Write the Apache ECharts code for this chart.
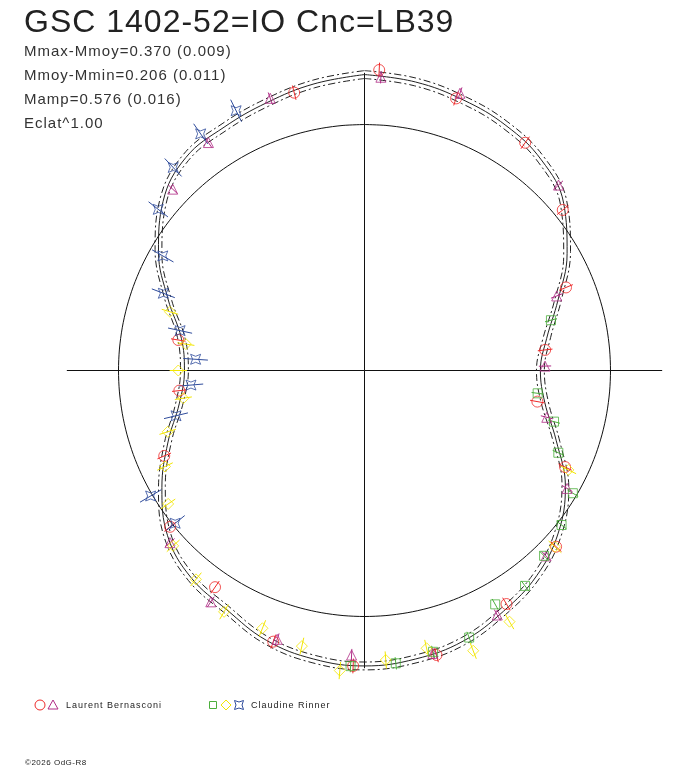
<!DOCTYPE html>
<html lang="fr">
<head>
<meta charset="utf-8">
<title>GSC 1402-52=IO Cnc=LB39</title>
<script src="https://cdn.jsdelivr.net/npm/echarts@6.0.0/dist/echarts.min.js"></script>
<style>html,body{margin:0;padding:0;background:#fff;}</style>
</head>
<body>
<div id="chart" style="width:688px;height:768px;"></div>
<script type="text/javascript">
var titleText = 'GSC 1402-52=IO Cnc=LB39';
var infoLines = ['Mmax-Mmoy=0.370 (0.009)', 'Mmoy-Mmin=0.206 (0.011)', 'Mamp=0.576 (0.016)', 'Eclat^1.00'];
var observers = ['Laurent Bernasconi', 'Claudine Rinner'];

// phase en degres (0 en haut, sens horaire), rayon normalise (1 = cercle moyen)
var fitPhase = [0, 10, 20, 30, 40, 50, 60, 70, 80, 90, 100, 110, 120, 130, 140, 150, 160, 170,
                180, 190, 200, 210, 220, 230, 240, 250, 260, 270, 280, 290, 300, 310, 320, 330, 340, 350, 360];
var fitR = [1.203, 1.191, 1.171, 1.150, 1.118, 1.057, 0.951, 0.837, 0.752, 0.715, 0.744, 0.829,
            0.943, 1.028, 1.089, 1.130, 1.171, 1.191, 1.201, 1.191, 1.167, 1.122, 1.098, 1.045,
            0.951, 0.850, 0.764, 0.732, 0.756, 0.850, 0.967, 1.069, 1.130, 1.142, 1.159, 1.183, 1.203];
var fitErr = 0.016;
var meanR = 1;
var axisR = 1.21;

// [phase, rayon]
var lbCircle = [[2.8,1.223],[18.6,1.167],[35.2,1.133],[51.0,1.037],[67.6,0.886],[83.5,0.739],[100.2,0.714],
  [115.7,0.905],[132.6,1.058],[148.7,1.111],[165.8,1.193],[182.2,1.202],[198.6,1.163],[214.6,1.070],
  [231.2,1.014],[246.9,0.885],[263.8,0.757],[279.3,0.767],[345.8,1.165]];
var lbTriangle = [[3.2,1.194],[19.0,1.192],[46.3,1.091],[68.8,0.838],[88.6,0.734],[104.4,0.765],[120.2,0.953],
  [135.6,1.055],[151.5,1.131],[166.4,1.183],[182.6,1.158],[198.0,1.149],[213.6,1.129],[228.5,1.056],
  [313.4,1.073],[325.6,1.123],[340.9,1.171]];
var crSquare = [[74.9,0.785],[97.5,0.710],[105.1,0.798],[113.0,0.856],[120.5,0.983],[128.1,1.018],[135.9,1.049],
  [143.3,1.092],[150.8,1.089],[158.6,1.166],[166.3,1.177],[173.9,1.197],[182.7,1.203]];
var crDiamond = [[116.0,0.922],[132.8,1.055],[150.0,1.179],[158.8,1.222],[167.4,1.157],[175.8,1.180],[184.7,1.224],
  [192.8,1.149],[201.6,1.127],[210.2,1.135],[218.9,1.091],[227.5,1.055],[235.8,0.965],[244.3,0.900],
  [252.7,0.838],[261.3,0.745],[270.0,0.757],[278.4,0.734],[286.8,0.826]];
var crStar = [[231.1,0.989],[239.6,1.008],[256.5,0.788],[265.2,0.708],[273.8,0.688],[282.2,0.767],[291.0,0.876],
  [299.6,0.943],[308.0,1.064],[316.7,1.134],[325.3,1.170],[333.7,1.178]];

// le graphique d'origine espace les lettres d'environ 1px
var origFillText = CanvasRenderingContext2D.prototype.fillText;
CanvasRenderingContext2D.prototype.fillText = function () {
  this.letterSpacing = /\b8px/.test(this.font) ? '0.5px' : '1px';
  return origFillText.apply(this, arguments);
};

var starPath = 'path://M0,0 L5,2 L10,0 L8,5 L10,10 L5,8 L0,10 L2,5 Z';

function toPolar(list) {
  return list.map(function (p) { return [p[1], p[0]]; });
}

function points(list, symbol, size, color) {
  return {
    type: 'scatter', coordinateSystem: 'polar', data: toPolar(list),
    symbol: symbol, symbolSize: size, clip: false, silent: true, z: 4,
    itemStyle: { color: 'transparent', borderColor: color, borderWidth: 1 }
  };
}

function errBars(list, half, color) {
  return {
    type: 'custom', coordinateSystem: 'polar', data: toPolar(list), silent: true, z: 3, clip: false,
    renderItem: function (params, api) {
      var r = api.value(0), a = api.value(1);
      var p1 = api.coord([r - half, a]);
      var p2 = api.coord([r + half, a]);
      return { type: 'line', shape: { x1: p1[0], y1: p1[1], x2: p2[0], y2: p2[1] },
               style: { stroke: color, lineWidth: 1 } };
    }
  };
}

function curve(offset, dashed) {
  return {
    type: 'line', coordinateSystem: 'polar', smooth: 0.4, symbol: 'none', silent: true, z: 2,
    data: fitPhase.map(function (a, i) { return [fitR[i] + offset, a]; }),
    lineStyle: { color: '#222', width: 1, type: dashed ? [7, 3, 2, 3] : 'solid' }
  };
}

var circle = [];
for (var a = 0; a <= 360; a += 5) circle.push([meanR, a]);

var red = '#ee2a2a', magenta = '#b02c86', green = '#4caf3c', yellow = '#f2e600', blue = '#2f4c9c';

var myChart = echarts.init(document.getElementById('chart'));
myChart.setOption({
  animation: false,
  backgroundColor: '#fff',
  polar: { center: [364.5, 370.5], radius: 1.3 * 246 },
  angleAxis: { type: 'value', min: 0, max: 360, startAngle: 90, clockwise: true, show: false },
  radiusAxis: { type: 'value', min: 0, max: 1.3, show: false },
  title: { text: titleText, left: 19, top: 2,
           textStyle: { fontFamily: 'Liberation Sans', fontSize: 32, fontWeight: 'normal', color: '#222' } },
  graphic: [
    { type: 'text', left: 24, top: 40, style: { text: infoLines.join('\n'), font: '15px "Liberation Sans"', fill: '#333', lineHeight: 24 } },
    { type: 'circle', shape: { cx: 40, cy: 705, r: 5 }, style: { fill: 'none', stroke: red } },
    { type: 'polygon', shape: { points: [[53, 700], [58, 709], [48, 709]] }, style: { fill: 'none', stroke: magenta } },
    { type: 'text', left: 66, top: 701, style: { text: observers[0], font: '9px "Liberation Sans"', fill: '#222' } },
    { type: 'rect', shape: { x: 209.5, y: 701.5, width: 7, height: 7 }, style: { fill: 'none', stroke: green } },
    { type: 'polygon', shape: { points: [[226, 700], [231, 705], [226, 710], [221, 705]] }, style: { fill: 'none', stroke: yellow } },
    { type: 'polygon', shape: { points: [[234.5, 700.5], [239, 702], [243.5, 700.5], [242, 705], [243.5, 709.5], [239, 708], [234.5, 709.5], [236, 705]] }, style: { fill: 'none', stroke: blue } },
    { type: 'text', left: 251, top: 701, style: { text: observers[1], font: '9px "Liberation Sans"', fill: '#222' } },
    { type: 'text', left: 25, top: 759, style: { text: '\u00a92026 OdG-R8', font: '8px "Liberation Sans"', fill: '#222' } }
  ],
  series: [
    { type: 'line', coordinateSystem: 'polar', symbol: 'none', silent: true, z: 1,
      data: [[axisR, 0], [0, 0], [axisR, 180]], lineStyle: { color: '#111', width: 1 } },
    { type: 'line', coordinateSystem: 'polar', symbol: 'none', silent: true, z: 1,
      data: [[axisR, 90], [0, 90], [axisR, 270]], lineStyle: { color: '#111', width: 1 } },
    { type: 'line', coordinateSystem: 'polar', symbol: 'none', silent: true, z: 1, smooth: 0.3,
      data: circle, lineStyle: { color: '#111', width: 1 } },
    curve(0, false),
    curve(fitErr, true),
    curve(-fitErr, true),
    errBars(lbCircle, 0.03, red),
    errBars(lbTriangle, 0.025, magenta),
    errBars(crSquare, 0.025, green),
    errBars(crDiamond, 0.035, yellow),
    errBars(crStar, 0.05, blue),
    points(lbCircle, 'circle', 11, red),
    points(lbTriangle, 'triangle', 10, magenta),
    points(crSquare, 'rect', 9, green),
    points(crDiamond, 'diamond', 11, yellow),
    points(crStar, starPath, 10, blue)
  ]
});
</script>
</body>
</html>
